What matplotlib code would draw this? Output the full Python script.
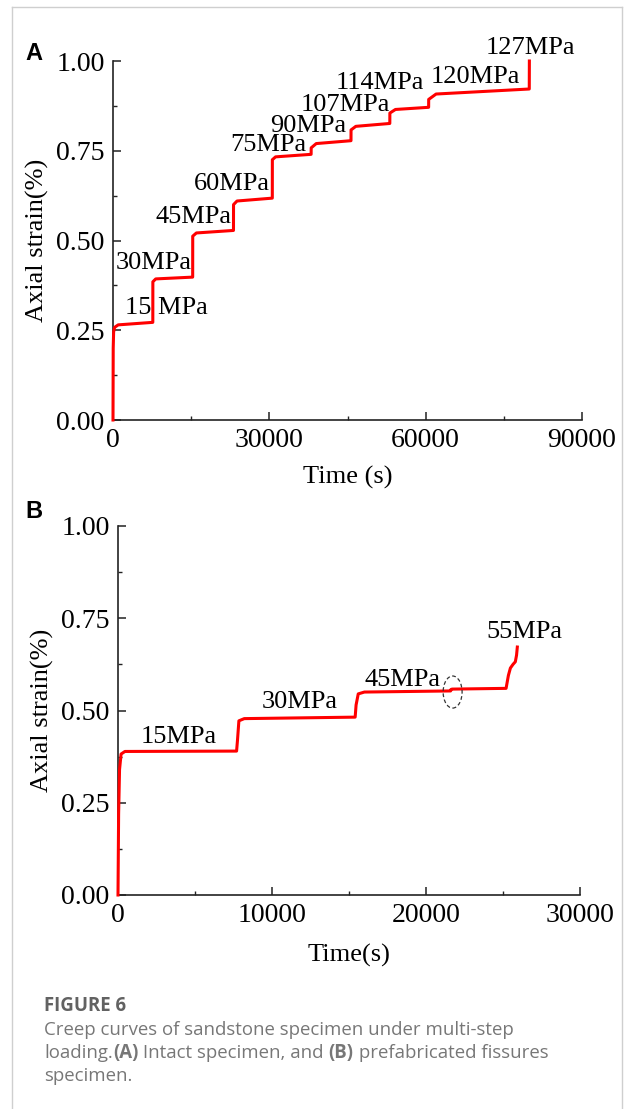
import numpy as np
import matplotlib
matplotlib.use('Agg')
import matplotlib.pyplot as plt
from matplotlib.lines import Line2D
from matplotlib.patches import Ellipse
from matplotlib.ticker import MultipleLocator

# panel A: intact specimen
time_a = [0, 40, 120, 300, 1000, 7640,
          7650, 8200, 15290,
          15300, 16000, 23120,
          23130, 23800, 30570,
          30580, 31200, 38020,
          38030, 39000, 45670,
          45680, 46600, 53120,
          53130, 54200, 60570,
          60580, 62000, 79880, 79900]
strain_a = [0.0, 0.20, 0.245, 0.258, 0.265, 0.272,
            0.385, 0.393, 0.398,
            0.512, 0.521, 0.528,
            0.600, 0.610, 0.618,
            0.725, 0.733, 0.740,
            0.758, 0.770, 0.778,
            0.808, 0.818, 0.826,
            0.855, 0.865, 0.871,
            0.893, 0.908, 0.922, 1.00]
labels_a = ['15 MPa', '30MPa', '45MPa', '60MPa', '75MPa', '90MPa',
            '107MPa', '114MPa', '120MPa', '127MPa']
label_t_a = [10320, 7840, 15480, 22740, 29810, 37460, 44530, 51220, 69560, 80070]
label_s_a = [0.312, 0.437, 0.565, 0.657, 0.766, 0.819, 0.877, 0.938, 0.955, 1.036]

# panel B: prefabricated fissures
time_b = [0, 40, 100, 200, 450, 7700,
          7760, 7850, 8200, 15400,
          15460, 15600, 16000, 21600,
          21620, 21700, 25200, 25350, 25480, 25650, 25800, 25880, 25930]
strain_b = [0.0, 0.22, 0.34, 0.382, 0.389, 0.390,
            0.420, 0.472, 0.478, 0.482,
            0.515, 0.545, 0.550, 0.553,
            0.557, 0.558, 0.560, 0.595, 0.615, 0.625, 0.632, 0.650, 0.672]
labels_b = ['15MPa', '30MPa', '45MPa', '55MPa']
label_t_b = [3940, 11770, 18490, 26380]
label_s_b = [0.428, 0.523, 0.583, 0.713]

W, H = 626, 1109
serif = 'Liberation Serif'
fs_tick = 20
fs_text = 19

fig = plt.figure(figsize=(W / 100, H / 100), dpi=100)


def fx(px):
    return px / W


def fy(py):
    return 1 - py / H


def style_axes(ax, xmax, xmajor, ymajor=0.25):
    for s in ['top', 'right']:
        ax.spines[s].set_visible(False)
    for s in ['left', 'bottom']:
        ax.spines[s].set_linewidth(1.2)
        ax.spines[s].set_color('#222222')
    ax.set_xlim(0, xmax)
    ax.set_ylim(0, 1.0)
    ax.xaxis.set_major_locator(MultipleLocator(xmajor))
    ax.xaxis.set_minor_locator(MultipleLocator(xmajor / 2))
    ax.yaxis.set_major_locator(MultipleLocator(ymajor))
    ax.yaxis.set_minor_locator(MultipleLocator(ymajor / 2))
    ax.yaxis.set_major_formatter(matplotlib.ticker.FormatStrFormatter('%.2f'))
    ax.tick_params(which='major', direction='in', length=6, width=1.1,
                   labelsize=fs_tick, color='#222222')
    ax.tick_params(which='minor', direction='in', length=3, width=1.0,
                   color='#222222')
    ax.tick_params(axis='x', pad=6)
    ax.tick_params(axis='y', pad=6)
    for lab in ax.get_xticklabels() + ax.get_yticklabels():
        lab.set_fontfamily(serif)
    ax.patch.set_alpha(0)


# ---- panel A
axA = fig.add_axes([fx(113), fy(420), fx(582 - 113), (420 - 61) / H])
axA.plot(time_a, strain_a, color='#ff0000', lw=2.2, clip_on=False, zorder=3)
style_axes(axA, 90000, 30000)
axA.set_xlabel('Time (s)', fontsize=fs_text, fontfamily=serif, labelpad=9)
axA.set_ylabel('Axial strain(%)', fontsize=fs_text, fontfamily=serif, labelpad=5)
for t, s, lab in zip(label_t_a, label_s_a, labels_a):
    axA.text(t, s, lab, fontsize=fs_text, fontfamily=serif, ha='center',
             va='center', clip_on=False)

# ---- panel B
axB = fig.add_axes([fx(118), fy(895), fx(580 - 118), (895 - 526) / H])
axB.plot(time_b, strain_b, color='#ff0000', lw=2.2, clip_on=False, zorder=3)
style_axes(axB, 30000, 10000)
axB.set_xlabel('Time(s)', fontsize=fs_text, fontfamily=serif, labelpad=11)
axB.set_ylabel('Axial strain(%)', fontsize=fs_text, fontfamily=serif, labelpad=5)
for t, s, lab in zip(label_t_b, label_s_b, labels_b):
    axB.text(t, s, lab, fontsize=fs_text, fontfamily=serif, ha='center',
             va='center', clip_on=False)
axB.add_patch(Ellipse((21730, 0.550), 1230, 0.087, fill=False, ls=(0, (3, 2)),
                      lw=0.9, ec='#333333', zorder=4))

# panel letters
fig.text(fx(25), fy(60), 'A', fontsize=17, fontweight='bold',
         fontfamily='Liberation Sans', va='baseline')
fig.text(fx(25), fy(518), 'B', fontsize=17, fontweight='bold',
         fontfamily='Liberation Sans', va='baseline')

# page frame
frame = dict(color='#cfcfcf', lw=1.0, transform=fig.transFigure)
fig.add_artist(Line2D([fx(12), fx(12)], [fy(7), 0], **frame))
fig.add_artist(Line2D([fx(12), fx(622)], [fy(7), fy(7)], **frame))
fig.add_artist(Line2D([fx(622), fx(622)], [fy(7), 0], **frame))

# caption
cap = 'Open Sans'
cap_fs = 13.4
fig.text(fx(44), fy(1011), 'FIGURE 6', fontsize=cap_fs, fontweight='bold',
         fontfamily=cap, color='#626262', va='baseline')
fig.text(fx(44), fy(1035), 'Creep curves of sandstone specimen under multi-step',
         fontsize=cap_fs, fontfamily=cap, color='#777777', va='baseline')
fig.text(fx(44), fy(1081), 'specimen.', fontsize=cap_fs, fontfamily=cap,
         color='#777777', va='baseline')

pieces = [('loading.', 'normal'), ('(A)', 'bold'), (' Intact specimen, and ', 'normal'),
          ('(B)', 'bold'), (' prefabricated fissures', 'normal')]
renderer = fig.canvas.get_renderer()
x = fx(44)
for txt, w in pieces:
    t = fig.text(x, fy(1058), txt, fontsize=cap_fs, fontfamily=cap, fontweight=w,
                 color='#777777', va='baseline')
    bb = t.get_window_extent(renderer=renderer)
    x += bb.width / W

fig.savefig('out.png', dpi=100)
